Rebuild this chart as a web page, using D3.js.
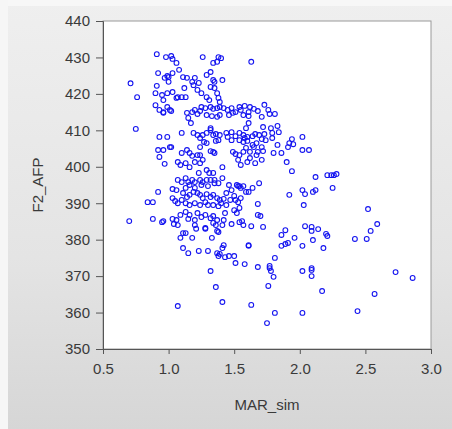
<!DOCTYPE html>
<html>
<head>
<meta charset="utf-8">
<script src="https://cdn.jsdelivr.net/npm/d3@7"></script>
<style>
  body { margin: 0; }
  svg { display: block; font-family: "Liberation Sans", Arial, sans-serif; }
</style>
</head>
<body>
<script>
// MAR_sim (x) vs F2_AFP (y)
const marSim = [
  0.71,0.76,0.75,0.91,0.98,1.02,1.03,1.06,1.08,0.92,0.99,1.00,1.03,1.00,0.97,0.91,0.90,0.95,0.99,1.03,
  1.06,1.07,0.96,0.90,0.99,1.01,0.96,1.02,1.10,1.12,1.11,1.14,1.18,1.20,1.19,1.23,1.22,1.25,1.13,1.14,
  1.26,1.29,1.32,1.34,1.35,1.32,1.35,1.37,1.38,1.39,1.34,1.37,1.38,1.40,1.41,1.29,1.31,1.63,0.93,0.96,
  1.17,1.18,1.20,1.22,1.24,1.25,1.28,1.32,1.34,1.37,1.39,1.42,1.29,1.33,1.37,1.39,1.15,1.45,1.48,1.49,
  1.46,1.55,1.57,1.61,1.62,1.61,1.65,1.68,1.73,1.76,1.77,1.81,1.71,1.54,1.58,1.51,1.61,1.59,1.72,1.78,
  1.83,1.84,1.10,1.19,1.22,1.24,1.26,1.29,1.32,1.32,1.34,1.36,1.39,1.38,1.27,1.29,1.36,1.24,1.34,1.32,
  1.35,1.22,1.24,1.44,1.48,1.45,1.48,1.51,1.54,1.57,1.60,1.64,1.66,1.69,1.73,1.74,1.71,1.54,1.57,1.60,
  1.79,1.67,1.49,1.51,1.54,1.57,1.65,1.68,1.71,1.72,1.67,1.80,1.86,1.91,1.92,1.94,1.95,2.02,2.02,2.07,
  1.90,1.94,0.93,0.92,0.96,1.02,0.93,0.97,0.99,1.01,1.10,1.16,1.14,1.18,1.07,1.09,1.13,1.20,1.24,1.26,
  1.16,1.29,1.31,1.23,1.34,1.41,1.53,1.55,1.60,1.66,1.62,1.71,1.83,1.79,1.58,1.64,1.62,1.59,
  1.07,1.10,1.13,1.15,1.18,1.20,1.24,1.26,1.29,1.32,1.35,1.38,1.41,1.13,1.16,1.20,1.25,1.30,1.35,1.46,
  1.48,1.53,1.55,1.57,1.61,1.69,1.52,1.54,1.64,0.92,1.03,1.06,1.11,1.14,1.16,1.19,1.22,1.24,1.26,1.29,
  1.32,1.34,1.37,1.39,1.42,1.44,1.47,1.50,1.53,1.55,1.44,0.84,0.88,1.03,1.05,1.07,1.10,1.13,1.16,1.20,
  1.24,1.28,1.30,1.34,1.38,1.40,1.68,1.92,2.02,2.04,2.10,2.12,2.03,2.12,2.21,2.24,2.26,2.28,2.25,2.52,
  1.59,1.51,
  0.70,0.88,0.95,0.96,1.03,1.04,1.06,1.07,1.09,1.13,1.15,1.16,1.20,1.22,1.25,1.28,1.32,1.34,1.37,1.41,
  1.42,1.36,1.20,1.28,1.09,1.11,1.18,1.21,1.28,1.33,1.37,1.38,1.41,1.42,1.11,1.15,1.23,1.30,1.37,1.38,
  1.39,1.43,1.32,1.36,1.41,1.07,1.48,1.54,1.57,1.56,1.63,1.72,1.70,1.68,1.52,1.54,1.50,2.04,2.09,2.09,
  2.14,1.89,1.86,1.96,1.91,1.89,1.86,2.02,2.10,2.18,2.20,2.21,2.42,2.51,2.54,2.59,1.61,1.46,1.50,1.51,
  1.58,1.68,1.77,1.78,1.77,1.81,1.80,1.76,2.02,2.09,2.09,2.09,2.17,2.73,2.86,2.57,1.63,1.81,1.75,2.02,
  2.44,1.61,1.13,1.34,1.43
];
const f2Afp = [
  422.9,419.1,410.4,430.9,430.1,430.4,429.6,428.5,426.6,425.7,424.9,424.6,425.7,423.3,424.4,422.2,420.2,419.7,420.2,420.5,
  418.9,419.1,418.3,416.9,416.4,415.6,414.8,415.3,419.1,421.6,424.6,424.4,423.3,424.4,422.4,423.0,421.1,420.2,419.1,414.8,
  430.1,425.2,426.0,423.8,423.3,421.9,421.6,420.2,418.9,417.8,428.5,428.8,430.1,429.8,423.8,419.1,418.3,428.8,415.6,415.0,
  412.0,415.0,415.6,414.5,415.3,416.4,416.1,416.4,415.9,416.1,416.4,416.1,414.2,413.9,413.7,414.2,413.4,415.6,416.1,414.8,
  414.2,415.6,414.2,415.0,416.4,413.9,415.9,415.3,417.0,415.6,414.5,414.5,413.7,416.4,416.7,415.0,412.0,410.6,410.9,410.6,
  411.2,409.5,409.3,409.3,408.7,407.9,408.7,409.3,410.1,410.6,408.7,409.0,408.7,407.3,406.8,406.5,407.1,405.4,404.1,404.3,
  403.8,403.2,403.2,409.3,409.5,408.2,407.3,408.4,409.3,408.7,408.2,408.4,409.0,408.7,409.0,407.3,407.6,407.3,406.8,407.1,
  407.9,406.5,404.1,403.5,403.2,404.1,405.4,404.1,405.4,404.3,403.2,403.8,403.8,405.4,406.5,407.6,406.2,408.2,404.6,404.6,
  401.3,398.8,408.2,404.6,404.6,405.4,402.7,400.8,408.2,405.4,403.8,403.8,404.6,403.0,401.3,400.5,401.0,401.3,401.0,401.9,
  399.9,399.1,398.3,398.3,398.3,399.9,401.9,400.5,401.3,401.0,402.4,401.9,406.0,409.3,407.9,406.0,404.1,405.2,
  396.4,395.8,396.9,395.8,396.4,395.8,396.4,395.8,396.4,396.4,396.4,395.5,396.9,394.2,395.0,394.2,395.0,394.7,395.5,395.0,
  393.6,394.7,394.2,394.7,393.1,395.5,395.0,394.7,394.2,393.1,393.9,393.6,392.8,391.7,392.3,393.1,392.8,392.3,391.4,392.5,
  391.7,392.3,391.4,390.9,391.2,392.8,390.9,392.0,390.3,391.4,389.5,390.3,390.3,391.4,390.6,390.0,390.9,390.0,389.5,390.0,
  389.5,390.3,389.5,389.5,389.2,390.0,389.8,392.3,393.6,392.5,393.1,393.6,389.5,397.2,397.7,397.7,397.7,398.0,394.2,388.4,
  393.1,390.9,
  385.1,385.7,384.8,385.1,385.7,384.3,385.4,384.0,386.8,387.6,385.7,386.8,385.4,387.3,386.2,386.8,385.9,386.5,385.4,384.0,
  385.4,384.0,384.0,383.2,380.5,381.8,380.5,383.0,383.0,380.5,382.4,382.1,377.7,378.5,377.7,376.3,376.9,376.9,376.3,375.5,
  376.1,375.2,371.4,367.0,362.9,361.8,384.3,384.8,384.0,385.1,383.7,383.5,386.5,386.8,387.3,388.7,388.1,383.7,383.5,382.4,
  382.9,382.6,381.3,380.5,379.1,378.8,378.3,378.3,379.9,377.7,381.6,381.0,380.2,380.2,382.4,384.3,378.5,375.5,375.5,373.6,
  373.3,372.5,372.2,371.4,372.8,375.0,369.8,367.3,371.4,372.2,371.7,370.0,365.9,371.1,369.5,365.1,362.1,359.9,357.1,359.9,
  360.4,378.3,381.8,384.6,387.3
];
const xTicks = [0.5, 1.0, 1.5, 2.0, 2.5, 3.0];
const yTicks = [350, 360, 370, 380, 390, 400, 410, 420, 430, 440];

const W = 452, H = 429;
const margin = {top: 21, right: 21, bottom: 80, left: 103}
, width = W - margin.left - margin.right
, height = H - margin.top - margin.bottom;

const svg = d3.select("body").append("svg")
    .attr("width", W)
    .attr("height", H);

// grey backdrop, a bit lighter at the top like the screenshot
const grad = svg.append("defs").append("linearGradient")
    .attr("id", "bg").attr("x1", 0).attr("y1", 0).attr("x2", 0).attr("y2", 1);
grad.append("stop").attr("offset", "0%").attr("stop-color", "#efefef");
grad.append("stop").attr("offset", "60%").attr("stop-color", "#e4e4e4");
grad.append("stop").attr("offset", "100%").attr("stop-color", "#d6d6d6");
svg.append("rect").attr("width", W).attr("height", H).attr("fill", "url(#bg)");
svg.append("rect").attr("width", W).attr("height", 6).attr("fill", "#f7f7f7");
svg.append("rect").attr("width", 8).attr("height", H).attr("fill", "#f6f6f6");

const g = svg.append("g").attr("transform", `translate(${margin.left},${margin.top})`);

const x = d3.scaleLinear().domain([0.5, 3.0]).range([0, width]);
const y = d3.scaleLinear().domain([350, 440]).range([height, 0]);

g.append("rect")
    .attr("width", width).attr("height", height)
    .attr("fill", "#fff")
    .attr("stroke", "#9a9a9a");

g.selectAll("circle")
    .data(marSim.map((v, i) => [v, f2Afp[i]]))
    .enter()
    .append("circle")
    .attr("cx", d => x(d[0]))
    .attr("cy", d => y(d[1]))
    .attr("r", 2.4)
    .attr("fill", "none")
    .attr("stroke", "#1414f0")
    .attr("stroke-width", 1.1);

const xAxis = g.append("g")
    .attr("transform", `translate(0,${height})`)
    .call(d3.axisBottom(x).tickValues(xTicks).tickFormat(d3.format(".1f")).tickSize(5).tickPadding(9));
const yAxis = g.append("g")
    .call(d3.axisLeft(y).tickValues(yTicks).tickSize(7).tickPadding(6));

[xAxis, yAxis].forEach(a => {
    a.select(".domain").attr("stroke", "#555");
    a.selectAll(".tick line").attr("stroke", "#555");
    a.selectAll("text").attr("fill", "#3a3a3a").style("font-size", "15px")
        .style("font-family", "'Liberation Sans', Arial, sans-serif");
});

svg.append("text")
    .attr("x", margin.left + width / 2)
    .attr("y", 410)
    .attr("text-anchor", "middle")
    .attr("fill", "#3a3a3a")
    .style("font-size", "15px")
    .text("MAR_sim");

svg.append("text")
    .attr("transform", "translate(43,185) rotate(-90)")
    .attr("text-anchor", "middle")
    .attr("fill", "#3a3a3a")
    .style("font-size", "15px")
    .text("F2_AFP");
</script>
</body>
</html>
